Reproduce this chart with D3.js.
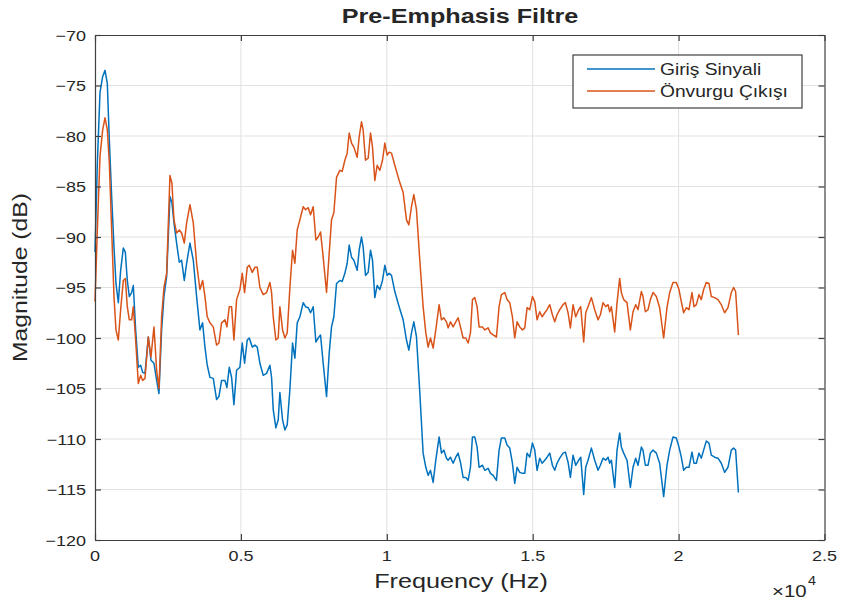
<!DOCTYPE html>
<html>
<head>
<meta charset="utf-8">
<script src="https://cdn.jsdelivr.net/npm/d3@7"></script>
<style>
  html, body { margin: 0; padding: 0; background: #fff; }
  svg { display: block; font-family: "Liberation Sans", Arial, Helvetica, sans-serif; }
</style>
</head>
<body>
<svg id="chart" width="845" height="602"></svg>
<script>
// Frequency bins (Hz) of the spectrum estimate
const freqHz = [
  0, 80, 171, 263, 343, 422, 491, 571, 651, 719, 799, 879, 970, 1039, 1107, 1176, 1256, 1313, 1393, 1484,
  1564, 1633, 1713, 1827, 1918, 2021, 2112, 2192, 2283, 2363, 2455, 2569, 2637, 2706, 2797, 2888, 2968, 3060, 3140, 3254,
  3368, 3482, 3596, 3688, 3768, 3847, 3939, 4053, 4167, 4247, 4338, 4453, 4521, 4601, 4681, 4761, 4852, 4966, 5046, 5126,
  5217, 5286, 5389, 5480, 5560, 5651, 5765, 5880, 5994, 6051, 6108, 6199, 6279, 6336, 6428, 6508, 6587, 6679, 6770, 6850,
  6930, 7021, 7135, 7215, 7307, 7387, 7478, 7569, 7649, 7729, 7820, 7935, 8026, 8106, 8186, 8277, 8391, 8471, 8563, 8642,
  8711, 8791, 8871, 8985, 9053, 9133, 9190, 9270, 9362, 9442, 9510, 9590, 9670, 9761, 9853, 9933, 10012, 10081, 10161, 10275,
  10423, 10560, 10675, 10755, 10846, 10926, 11017, 11131, 11245, 11337, 11417, 11497, 11588, 11679, 11793, 11873, 11953, 12045, 12102, 12182,
  12273, 12364, 12444, 12524, 12615, 12707, 12787, 12867, 12935, 13015, 13095, 13163, 13278, 13358, 13472, 13552, 13643, 13757, 13848, 13928,
  14043, 14122, 14214, 14305, 14385, 14465, 14556, 14648, 14728, 14807, 14899, 14990, 15070, 15150, 15241, 15321, 15413, 15492, 15584, 15675,
  15755, 15835, 15926, 16040, 16120, 16212, 16292, 16383, 16474, 16577, 16646, 16748, 16817, 16896, 17011, 17125, 17239, 17319, 17410, 17502,
  17582, 17639, 17696, 17810, 17890, 17981, 18038, 18118, 18232, 18347, 18438, 18529, 18609, 18723, 18780, 18860, 18952, 19032, 19123, 19237,
  19351, 19488, 19602, 19694, 19808, 19922, 20013, 20093, 20173, 20265, 20356, 20459, 20527, 20607, 20698, 20778, 20858, 20950, 21041, 21121,
  21235, 21349, 21463, 21578, 21692, 21806, 21886, 21954, 22050
];

// Input signal spectrum (dB)
const girisDb = [
  -91.5, -82.7, -75.7, -74.1, -73.5, -74.8, -80.4, -86.0, -91.0, -94.6, -96.5, -93.3, -91.1, -91.5, -94.3, -95.9, -95.5, -94.8, -99.2, -102.9,
  -102.7, -103.4, -103.5, -99.9, -102.2, -102.5, -104.2, -105.5, -99.2, -95.9, -93.9, -86.0, -86.6, -88.6, -90.6, -92.5, -92.3, -94.3, -92.6, -90.6,
  -92.3, -95.9, -99.2, -98.5, -100.9, -102.7, -103.9, -104.0, -106.1, -105.8, -104.2, -104.2, -104.9, -102.9, -103.9, -106.6, -103.2, -102.9, -100.5, -102.5,
  -100.2, -100.0, -100.9, -100.7, -100.9, -102.5, -103.7, -103.5, -102.7, -103.9, -107.1, -108.9, -108.1, -105.4, -108.1, -109.1, -108.6, -105.1, -100.5, -102.0,
  -98.5, -97.9, -96.5, -96.9, -97.0, -97.5, -96.9, -100.4, -100.0, -99.7, -102.5, -105.8, -101.5, -98.9, -97.9, -94.6, -94.3, -94.4, -93.6, -92.6,
  -90.8, -92.0, -92.3, -93.3, -91.3, -90.0, -91.0, -93.8, -93.5, -91.3, -92.3, -96.0, -94.8, -95.2, -94.3, -92.8, -93.8, -93.6, -93.8, -95.4,
  -96.9, -98.2, -100.2, -101.2, -99.5, -98.4, -99.9, -105.4, -111.4, -112.8, -113.6, -113.1, -114.3, -112.1, -109.8, -111.4, -111.1, -111.9, -112.1, -111.8,
  -112.4, -111.8, -111.4, -112.3, -113.8, -113.8, -114.1, -112.8, -109.8, -109.8, -110.8, -112.8, -112.6, -113.1, -112.9, -113.4, -113.6, -114.1, -111.1, -109.9,
  -109.9, -110.6, -110.9, -112.4, -114.4, -112.8, -113.3, -113.4, -113.4, -111.4, -111.8, -110.4, -111.1, -113.1, -111.9, -112.4, -112.1, -111.8, -111.4, -112.6,
  -113.1, -112.4, -111.9, -111.4, -111.3, -112.3, -113.8, -111.6, -112.6, -112.1, -111.8, -115.5, -112.8, -112.1, -110.9, -112.1, -113.1, -112.6, -111.9, -112.1,
  -111.8, -112.4, -112.1, -114.8, -111.1, -109.4, -110.8, -111.4, -112.1, -114.8, -112.8, -111.9, -112.6, -110.8, -111.1, -112.6, -112.6, -111.4, -111.1, -111.4,
  -112.4, -115.7, -112.6, -111.1, -109.8, -109.9, -110.8, -111.8, -113.1, -112.8, -112.8, -111.3, -112.4, -112.4, -111.4, -111.9, -111.1, -110.2, -110.4, -111.6,
  -111.8, -111.9, -112.4, -113.3, -112.8, -111.1, -110.9, -111.1, -115.3
];

// Pre-emphasis filter output spectrum (dB)
const onvurguDb = [
  -96.4, -89.3, -82.0, -79.4, -78.2, -79.4, -82.7, -89.3, -95.9, -99.2, -100.2, -97.2, -94.3, -94.1, -96.9, -98.2, -98.2, -96.9, -100.2, -104.5,
  -103.7, -104.2, -104.0, -99.9, -101.9, -98.9, -103.2, -105.0, -97.9, -95.0, -93.6, -83.9, -84.7, -88.3, -89.6, -89.3, -89.6, -90.6, -88.6, -86.8,
  -88.6, -92.6, -95.2, -94.3, -95.9, -97.9, -98.5, -98.9, -100.7, -100.5, -98.5, -98.2, -98.9, -96.9, -96.9, -100.2, -96.2, -95.2, -93.6, -95.5,
  -93.0, -92.8, -93.5, -93.0, -93.0, -95.0, -95.7, -95.5, -94.5, -95.5, -97.9, -100.2, -100.0, -96.9, -99.2, -100.0, -99.5, -95.0, -91.3, -92.6,
  -89.3, -88.3, -87.0, -87.3, -87.1, -87.8, -87.0, -90.3, -90.0, -89.5, -92.0, -95.5, -91.6, -88.3, -87.6, -84.1, -83.4, -83.5, -82.4, -81.7,
  -79.7, -80.7, -81.1, -82.1, -80.1, -78.6, -79.4, -82.4, -82.2, -79.7, -81.1, -84.4, -82.9, -83.4, -82.4, -80.7, -81.9, -81.6, -81.7, -82.9,
  -84.4, -85.6, -88.3, -88.8, -87.0, -85.8, -87.3, -92.3, -96.9, -99.5, -100.9, -100.0, -101.0, -99.2, -96.7, -98.2, -98.0, -98.4, -99.0, -98.4,
  -98.9, -98.4, -98.0, -98.9, -100.0, -100.0, -100.5, -99.5, -96.2, -96.0, -96.9, -98.9, -98.9, -99.2, -99.0, -99.5, -99.7, -99.9, -96.9, -95.7,
  -95.5, -96.2, -96.5, -97.9, -100.0, -98.4, -98.9, -99.2, -99.0, -97.0, -97.2, -95.9, -96.4, -98.2, -97.4, -97.9, -97.5, -97.2, -96.7, -97.7,
  -98.4, -97.7, -97.2, -96.7, -96.5, -97.5, -99.0, -96.7, -97.9, -97.2, -96.9, -100.4, -97.5, -96.9, -96.0, -97.2, -98.2, -97.7, -96.5, -96.9,
  -96.7, -97.4, -96.9, -99.4, -96.5, -94.1, -95.5, -96.2, -96.5, -99.2, -97.4, -96.7, -97.2, -95.4, -95.9, -97.4, -97.2, -96.2, -95.5, -95.9,
  -97.0, -100.0, -97.0, -95.5, -94.5, -94.5, -95.2, -96.4, -97.5, -97.0, -97.2, -95.5, -96.9, -96.7, -95.7, -96.2, -95.2, -94.5, -94.6, -95.9,
  -96.0, -96.2, -96.7, -97.5, -97.0, -95.5, -95.0, -95.4, -99.7
];

// Axis ticks and labels
const xTicks = [0, 5000, 10000, 15000, 20000, 25000];
const xTickLabels = ["0", "0.5", "1", "1.5", "2", "2.5"];
const yTicks = [-120, -115, -110, -105, -100, -95, -90, -85, -80, -75, -70];

const seriesNames = ["Giriş Sinyali", "Önvurgu Çıkışı"];
const seriesColors = ["#0072BD", "#D95319"];

const titleText = "Pre-Emphasis Filtre";
const xLabelText = "Frequency (Hz)";
const yLabelText = "Magnitude (dB)";

// ---- layout ----
const W = 845, H = 602;
const margin = { left: 95, right: 20.5, top: 35, bottom: 62 };
const innerW = W - margin.left - margin.right;
const innerH = H - margin.top - margin.bottom;
const SX = 1.2;            // horizontal glyph widening used for all upright text
const axisColor = "#404040";
const textColor = "#262626";
const gridColor = "#e1e1e1";
const tickLen = 6;

const svg = d3.select("#chart");

const x = d3.scaleLinear().domain([0, 25000]).range([margin.left, margin.left + innerW]);
const y = d3.scaleLinear().domain([-120, -70]).range([margin.top + innerH, margin.top]);

// upright text helper, widened horizontally
function label(px, py, str, size, anchor, weight) {
  const g = svg.append("g").attr("transform", `translate(${px},${py}) scale(${SX},1)`);
  return g.append("text")
    .attr("x", 0).attr("y", 0)
    .attr("text-anchor", anchor || "middle")
    .attr("font-size", size)
    .attr("font-weight", weight || "normal")
    .attr("fill", textColor)
    .text(str);
}

// background of the plot area
svg.append("rect")
  .attr("x", margin.left).attr("y", margin.top)
  .attr("width", innerW).attr("height", innerH)
  .attr("fill", "#fff");

// grid lines
const grid = svg.append("g").attr("class", "grid");
grid.selectAll("line.gx").data(xTicks.slice(1, -1)).enter().append("line")
  .attr("x1", d => x(d)).attr("x2", d => x(d))
  .attr("y1", margin.top).attr("y2", margin.top + innerH)
  .attr("stroke", gridColor).attr("stroke-width", 1);
grid.selectAll("line.gy").data(yTicks.slice(1, -1)).enter().append("line")
  .attr("y1", d => y(d)).attr("y2", d => y(d))
  .attr("x1", margin.left).attr("x2", margin.left + innerW)
  .attr("stroke", gridColor).attr("stroke-width", 1);

// spectra
const line = d3.line()
  .x((d, i) => x(freqHz[i]))
  .y(d => y(d));

[girisDb, onvurguDb].forEach((vals, k) => {
  svg.append("path")
    .datum(vals)
    .attr("d", line)
    .attr("fill", "none")
    .attr("stroke", seriesColors[k])
    .attr("stroke-width", 1.5)
    .attr("stroke-linejoin", "round");
});

// axes: bottom/left with inward ticks, mirrored ticks on top/right
const xAxisB = d3.axisBottom(x).tickValues(xTicks).tickSizeInner(-tickLen).tickSizeOuter(0).tickFormat("");
const xAxisT = d3.axisTop(x).tickValues(xTicks).tickSizeInner(-tickLen).tickSizeOuter(0).tickFormat("");
const yAxisL = d3.axisLeft(y).tickValues(yTicks).tickSizeInner(-tickLen).tickSizeOuter(0).tickFormat("");
const yAxisR = d3.axisRight(y).tickValues(yTicks).tickSizeInner(-tickLen).tickSizeOuter(0).tickFormat("");

function styleAxis(g) {
  g.selectAll("path, line").attr("stroke", axisColor).attr("stroke-width", 1.2);
}
svg.append("g").attr("transform", `translate(0,${margin.top + innerH})`).call(xAxisB).call(styleAxis);
svg.append("g").attr("transform", `translate(0,${margin.top})`).call(xAxisT).call(styleAxis);
svg.append("g").attr("transform", `translate(${margin.left},0)`).call(yAxisL).call(styleAxis);
svg.append("g").attr("transform", `translate(${margin.left + innerW},0)`).call(yAxisR).call(styleAxis);

// tick labels
xTicks.forEach((t, i) => label(x(t), margin.top + innerH + 21, xTickLabels[i], 15, "middle"));
yTicks.forEach(t => label(margin.left - 9, y(t) + 5.5, String(t).replace("-", "\u2212"), 15, "end"));

// exponent marker
label(772, 597, "\u00d710", 17, "start");
label(808, 585, "4", 12, "start");

// title and axis titles
label(460, 23, titleText, 21, "middle", "bold");
label(461, 588, xLabelText, 21, "middle");
svg.append("text")
  .attr("transform", `translate(27,${(193 + 362) / 2}) rotate(-90)`)
  .attr("text-anchor", "middle")
  .attr("font-size", 20)
  .attr("fill", textColor)
  .attr("textLength", 169)
  .attr("lengthAdjust", "spacingAndGlyphs")
  .text(yLabelText);

// legend
const lg = { x: 573, y: 55, w: 229, h: 53 };
svg.append("rect")
  .attr("x", lg.x).attr("y", lg.y).attr("width", lg.w).attr("height", lg.h)
  .attr("fill", "#fff").attr("stroke", axisColor).attr("stroke-width", 1.2);
seriesNames.forEach((name, k) => {
  const ly = 69 + k * 22;
  svg.append("line")
    .attr("x1", 587).attr("x2", 655).attr("y1", ly).attr("y2", ly)
    .attr("stroke", seriesColors[k]).attr("stroke-width", 1.5);
  label(660, ly + 6, name, 16, "start");
});
</script>
</body>
</html>
